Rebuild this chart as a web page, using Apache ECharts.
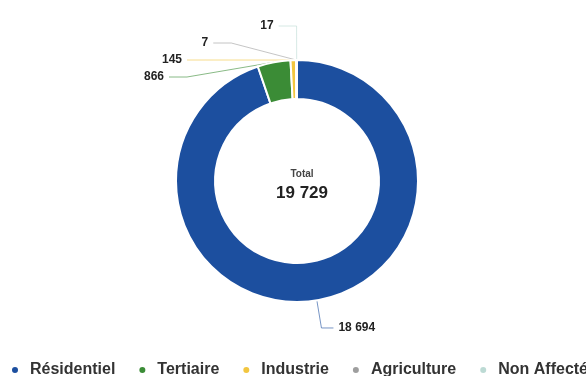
<!DOCTYPE html>
<html><head><meta charset="utf-8">
<script src="https://cdn.jsdelivr.net/npm/echarts@6/dist/echarts.min.js"></script>
<style>html,body{margin:0;padding:0;background:#fff}#c{width:586px;height:376px}</style>
</head><body><div id="c"></div>
<script>
const categories = ['Résidentiel', 'Tertiaire', 'Industrie', 'Agriculture', 'Non Affecté'];
const values = [18694, 866, 145, 7, 17];
const colors = ['#1c4f9f', '#3b8c36', '#f2c640', '#9e9e9e', '#bcdad4'];
const totalLabel = 'Total';

const fmt = v => String(v).replace(/\B(?=(\d{3})+(?!\d))/g, ' ');
const total = values.reduce((a, b) => a + b, 0);

const chart = echarts.init(document.getElementById('c'), null, {renderer: 'canvas'});
chart.setOption({
  animation: false,
  color: colors,
  title: {
    text: '{a|' + totalLabel + '}\n{b|' + fmt(total) + '}',
    left: 297, top: 180, textAlign: 'center', textVerticalAlign: 'middle',
    textStyle: {
      rich: {
        a: {fontSize: 10, color: '#444', fontFamily: 'Liberation Sans', lineHeight: 17},
        b: {fontSize: 17, fontWeight: 'bold', color: '#222', fontFamily: 'Liberation Sans', lineHeight: 21}
      }
    }
  },
  legend: {
    top: 357, left: 5, width: 1000,
    icon: 'circle', itemWidth: 20, itemHeight: 8, itemGap: 22,
    textStyle: {fontSize: 16, fontWeight: 'bold', color: '#333', fontFamily: 'Liberation Sans'},
    data: categories
  },
  series: [{
    type: 'pie',
    center: [297, 181],
    radius: [82, 121],
    startAngle: 90,
    itemStyle: {borderColor: '#fff', borderWidth: 2},
    label: {
      show: true,
      formatter: p => fmt(p.value),
      fontSize: 12, lineHeight: 15, fontWeight: 'bold', color: '#222', fontFamily: 'Liberation Sans'
    },
    labelLine: {show: true, length: 34, length2: 18, lineStyle: {width: 1, opacity: 0.6}},
    data: categories.map((n, i) => ({
      name: n, value: values[i],
      labelLine: i === 0 ? {length: 28, length2: 12} : undefined
    }))
  }]
});
</script></body></html>
